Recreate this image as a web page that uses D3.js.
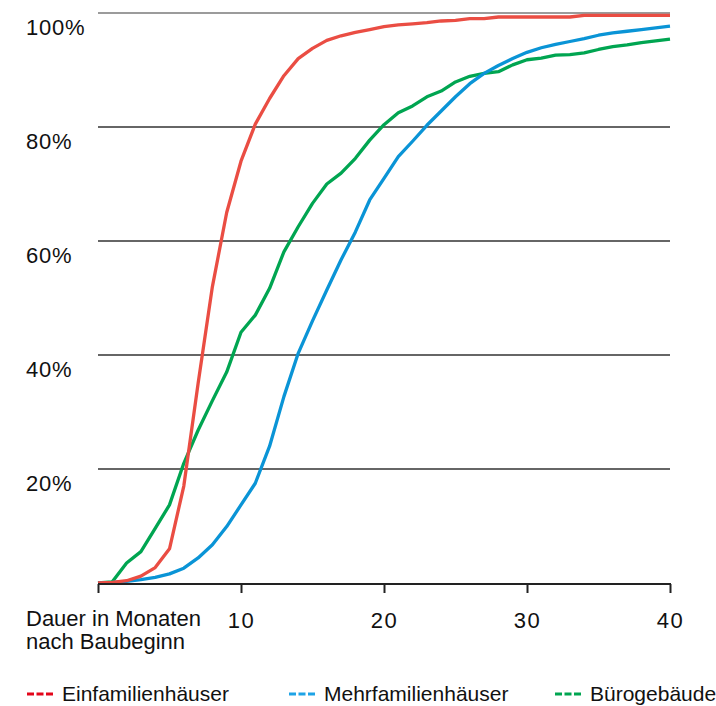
<!DOCTYPE html>
<html>
<head>
<meta charset="utf-8">
<script src="https://cdn.jsdelivr.net/npm/d3@7"></script>
<style>
  body { margin: 0; background: #fff; }
  svg { display: block; font-family: "Liberation Sans", Arial, sans-serif; }
</style>
</head>
<body>
<svg id="chart" width="716" height="706"></svg>
<script>
// months after construction start
const months = [0, 1, 2, 3, 4, 5, 6, 7, 8, 9, 10, 11, 12, 13, 14, 15, 16, 17, 18, 19, 20,
  21, 22, 23, 24, 25, 26, 27, 28, 29, 30, 31, 32, 33, 34, 35, 36, 37, 38, 39, 40];

// cumulative share completed, in %
const einfamilien = [0, 0.1, 0.4, 1.2, 2.7, 6, 17, 35, 52, 65, 74, 80.5, 85, 89, 92, 93.8, 95.2, 96, 96.6, 97.1, 97.6,
  97.9, 98.1, 98.3, 98.6, 98.7, 99.0, 99.0, 99.3, 99.3, 99.3, 99.3, 99.3, 99.3, 99.6, 99.6, 99.6, 99.6, 99.6, 99.6, 99.6];
const mehrfamilien = [0, 0.1, 0.3, 0.6, 1.0, 1.6, 2.6, 4.4, 6.7, 9.9, 13.7, 17.5, 24, 32.7, 40.3, 46, 51.4, 56.7, 61.6, 67.2, 71,
  74.8, 77.5, 80.3, 82.8, 85.3, 87.6, 89.4, 90.8, 92, 93.1, 93.9, 94.5, 95, 95.5, 96.1, 96.5, 96.8, 97.1, 97.4, 97.7];
const buero = [0, 0.2, 3.5, 5.5, 9.6, 13.7, 21, 26.8, 32, 37, 44, 47, 51.7, 58.1, 62.5, 66.6, 70, 71.9, 74.5, 77.7, 80.4,
  82.5, 83.7, 85.3, 86.3, 87.9, 88.9, 89.4, 89.7, 90.9, 91.8, 92.1, 92.6, 92.7, 93, 93.6, 94.1, 94.4, 94.8, 95.1, 95.4];

const seriesNames = ['Einfamilienhäuser', 'Mehrfamilienhäuser', 'Bürogebäude'];
const xTicks = [0, 10, 20, 30, 40];
const xTickLabels = ['', '10', '20', '30', '40'];
const yTicks = [20, 40, 60, 80, 100];
const yTickLabels = ['20%', '40%', '60%', '80%', '100%'];

const lineColors = ['#ea4d43', '#0a94d6', '#00a551'];
const legendColors = ['#e3061b', '#1ea3e6', '#00a551'];

const svg = d3.select('#chart');

const x = d3.scaleLinear().domain([0, 40]).range([98, 670]);
const y = d3.scaleLinear().domain([0, 100]).range([583, 13]);

// gridlines
svg.append('g')
  .selectAll('line')
  .data(yTicks)
  .enter()
  .append('line')
  .attr('x1', x(0))
  .attr('x2', x(40))
  .attr('y1', d => y(d))
  .attr('y2', d => y(d))
  .attr('stroke', d => (d === 100 ? '#7a7a7a' : '#333'))
  .attr('stroke-width', 1.3);

// y labels sit below their gridline
svg.append('g')
  .selectAll('text')
  .data(yTicks)
  .enter()
  .append('text')
  .attr('x', 26)
  .attr('y', d => y(d) + 21.5)
  .attr('font-size', 22)
  .attr('letter-spacing', 0.8)
  .attr('fill', '#111')
  .text((d, i) => yTickLabels[i]);

// series lines, red drawn last so it lies on top
const data = [einfamilien, mehrfamilien, buero];
const order = [2, 1, 0];
const line = d3.line()
  .x((d, i) => x(months[i]))
  .y(d => y(d));

svg.append('g')
  .selectAll('path')
  .data(order)
  .enter()
  .append('path')
  .attr('d', k => line(data[k]))
  .attr('fill', 'none')
  .attr('stroke', k => lineColors[k])
  .attr('stroke-width', 3.3)
  .attr('stroke-linejoin', 'round');

// x axis
const xAxis = d3.axisBottom(x)
  .tickValues(xTicks)
  .tickSize(9)
  .tickFormat((d, i) => xTickLabels[i]);

const xAxisGroup = svg.append('g')
  .attr('transform', `translate(0, ${y(0) + 1})`)
  .call(xAxis);

xAxisGroup.select('.domain')
  .attr('d', `M${x(0)},0H${x(40) + 1}`)
  .attr('stroke', '#222')
  .attr('stroke-width', 2);

xAxisGroup.selectAll('.tick line')
  .attr('stroke', '#222')
  .attr('stroke-width', 2);

xAxisGroup.selectAll('.tick text')
  .attr('y', 44)
  .attr('dy', 0)
  .attr('font-size', 22)
  .attr('letter-spacing', 1.5)
  .attr('font-family', '"Liberation Sans", Arial, sans-serif')
  .attr('fill', '#111');

// axis title
const title = svg.append('text')
  .attr('x', 26)
  .attr('font-size', 22)
  .attr('fill', '#111');
title.append('tspan').attr('x', 26).attr('y', 626).text('Dauer in Monaten');
title.append('tspan').attr('x', 26).attr('y', 649).text('nach Baubeginn');

// legend
const legendX = [27, 289, 555];
const legend = svg.append('g')
  .selectAll('g')
  .data(seriesNames)
  .enter()
  .append('g')
  .attr('transform', (d, i) => `translate(${legendX[i]}, 694)`);

legend.append('line')
  .attr('x1', 0)
  .attr('x2', 26)
  .attr('stroke', (d, i) => legendColors[i])
  .attr('stroke-width', 3)
  .attr('stroke-dasharray', '7,2.5');

legend.append('text')
  .attr('x', 35)
  .attr('y', 7)
  .attr('font-size', 21)
  .attr('fill', '#111')
  .text(d => d);
</script>
</body>
</html>
